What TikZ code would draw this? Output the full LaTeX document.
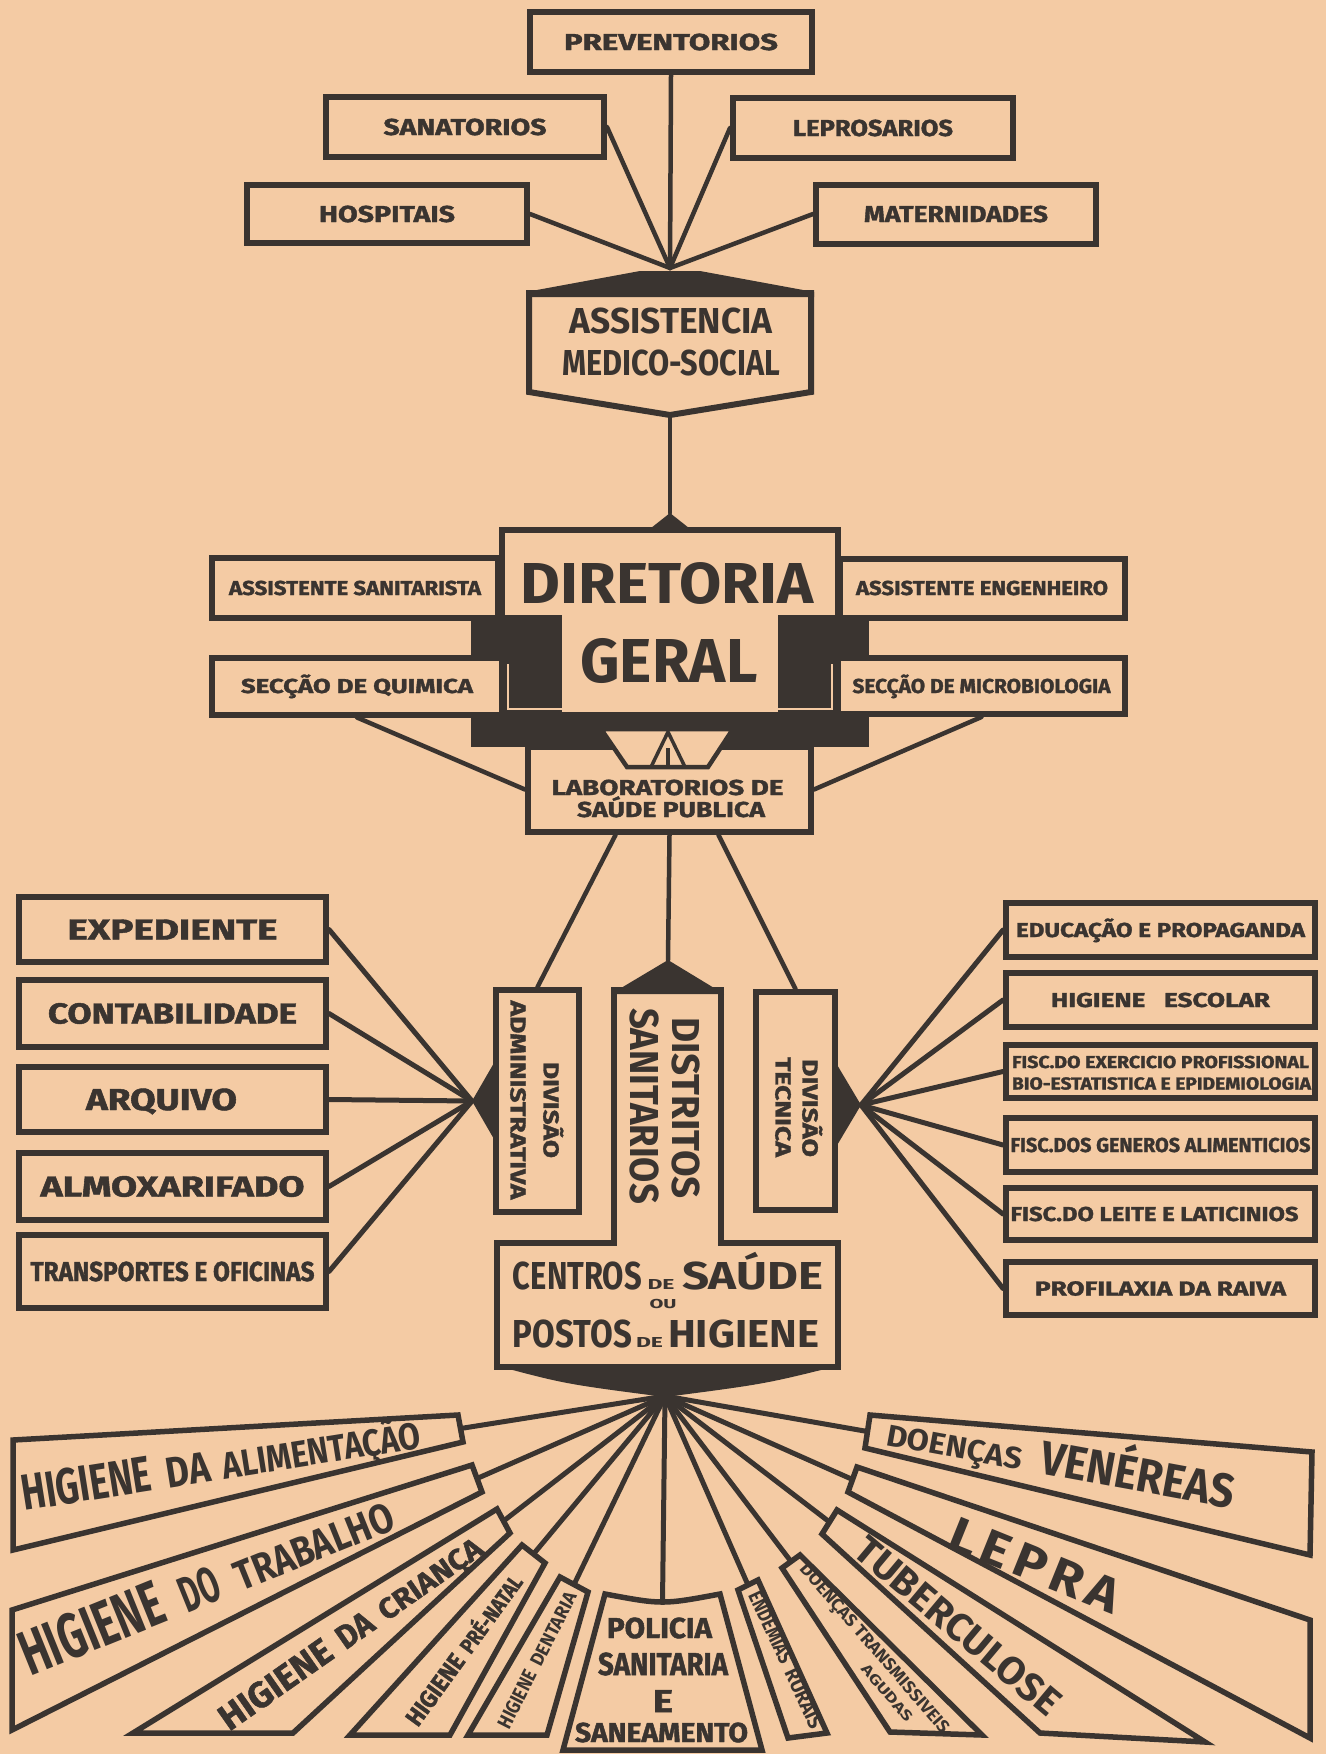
\documentclass[tikz,border=0pt]{standalone}
\usepackage{fontspec}
\usepackage{graphicx}
\setmainfont{Fira Sans}
\newfontfamily\lbfont{Fira Sans}[BoldFeatures={FakeBold=1.5}]
\usetikzlibrary{calc}
\newlength\px
\setlength\px{0.02cm}
\newcommand\ft[3]{\resizebox{#1\px}{#2\px}{\raisebox{0pt}[\fontcharht\font`H][0pt]{#3}}}
\definecolor{paper}{RGB}{244,203,164}
\definecolor{ink}{RGB}{58,52,48}
\begin{document}
\begin{tikzpicture}[x=0.02cm, y=-0.02cm,
  box/.style={draw=ink, line width=6\px, fill=paper, inner sep=0pt, text=ink, font=\lbfont\bfseries},
  lbl/.style={inner sep=0pt, text=ink, font=\lbfont\bfseries},
  hd/.style={inner sep=0pt, text=ink, font=\bfseries},
  conn/.style={draw=ink, line width=4.5\px, line cap=round},
  fanl/.style={draw=ink, line width=5\px, line cap=round},
  wedge/.style={draw=ink, line width=5.5\px, fill=paper, line join=miter},
  outl/.style={draw=ink, line width=6\px, fill=paper}
]
\fill[paper] (0,0) rectangle (1326,1754);
\useasboundingbox (0,0) rectangle (1326,1754);

% ---------- top group ----------
\coordinate (top) at (670,268);
\node[box, minimum width=282\px, minimum height=60\px] (prev) at (671,42) {\ft{214}{16}{PREVENTORIOS}};
\node[box, minimum width=278\px, minimum height=59\px] (sana) at (465,127) {\ft{163}{16}{SANATORIOS}};
\node[box, minimum width=280\px, minimum height=60\px] (lepr) at (873,128) {\ft{160}{16}{LEPROSARIOS}};
\node[box, minimum width=280\px, minimum height=58\px] (hosp) at (387,214) {\ft{136}{16}{HOSPITAIS}};
\node[box, minimum width=280\px, minimum height=59\px] (mate) at (956,214) {\ft{184}{16}{MATERNIDADES}};
\draw[conn] (prev.south) -- (top);
\draw[conn] (sana.east) -- (top);
\draw[conn] (lepr.west) -- (top);
\draw[conn] (hosp.east) -- (top);
\draw[conn] (mate.west) -- (top);

% ---------- assistencia ----------
\path[outl] (529,293) -- (811,293) -- (811,392) -- (670,415) -- (529,392) -- cycle;
\fill[ink] (526,297) -- (526,292) -- (640,271) -- (700,271) -- (814,292) -- (814,297) -- cycle;
\coordinate (asb) at (670,415);
\node[hd] (as1) at (671,321) {\ft{203}{25}{ASSISTENCIA}};
\node[hd] (as2) at (671,363) {\ft{218}{25}{MEDICO-SOCIAL}};

% ---------- diretoria ----------
\coordinate (dtop) at (670,513);
\draw[conn] (asb) -- (dtop);
\node[box, minimum width=336\px, minimum height=200\px] (dir) at (670,630) {};
\fill[ink] (646,532) -- (670,513) -- (694,532) -- cycle;
\node[box, minimum width=286\px, minimum height=60\px] (asan) at (355,588) {\ft{252}{14}{ASSISTENTE SANITARISTA}};
\node[box, minimum width=285\px, minimum height=59\px] (aeng) at (982,588) {\ft{252}{14}{ASSISTENTE ENGENHEIRO}};
\fill[ink] (471,615) rectangle (562,747);
\fill[ink] (778,615) rectangle (869,747);
\fill[ink] (471,712) rectangle (869,747);
\node[box, minimum width=290\px, minimum height=57\px] (squi) at (357,686) {\ft{232}{14}{SECÇÃO DE QUIMICA}};
\node[box, minimum width=287\px, minimum height=56\px] (smic) at (981.5,686) {\ft{258}{14}{SECÇÃO DE MICROBIOLOGIA}};
\draw[paper, line width=1.5\px] (508,664) -- (508,709) -- (562,709);
\draw[paper, line width=1.5\px] (832,664) -- (832,709) -- (778,709);
\node[hd] (dir1) at (667,583) {\ft{293}{40}{DIRETORIA}};
\node[hd] (dir2) at (669,661) {\ft{177}{43}{GERAL}};

% ---------- laboratorios ----------
\node[box, minimum width=283\px, minimum height=85\px] (lab) at (669.5,789.5) {};
\fill[ink] (528,744) rectangle (811,747);
\filldraw[fill=paper, draw=ink, line width=4.5\px] (601,729) -- (733,729) -- (708,767) -- (627,767) -- cycle;
\draw[ink, line width=3.5\px] (651,767) -- (668,732) -- (685,767);
\draw[ink, line width=3.5\px] (668,748) -- (668,767);
\node[lbl] (lab1) at (667.5,787.5) {\ft{232}{15}{LABORATORIOS DE}};
\node[lbl] (lab2) at (671,809.5) {\ft{188}{15}{SAÚDE PUBLICA}};
\draw[conn] (squi.south) -- (lab.west);
\draw[conn] (smic.south) -- (lab.east);

% ---------- divisions ----------
\node[box, minimum width=83\px, minimum height=222\px] (dadm) at (537.5,1101) {};
\node[box, minimum width=79\px, minimum height=218\px] (dtec) at (795.5,1101) {};
\node[lbl, rotate=-90] (da1) at (518,1100) {\ft{199}{15}{ADMINISTRATIVA}};
\node[lbl, rotate=-90] (da2) at (551,1110) {\ft{96}{15}{DIVISÃO}};
\node[lbl, rotate=-90] (dt1) at (783,1107) {\ft{100}{15}{TECNICA}};
\node[lbl, rotate=-90] (dt2) at (810,1108) {\ft{98}{15}{DIVISÃO}};

\coordinate (dsap) at (668,960);
\draw[conn] ($(lab.south)+(-54,0)$) -- (dadm.north);
\draw[conn] (lab.south) -- (dsap);
\draw[conn] ($(lab.south)+(49,0)$) -- (dtec.north);

% distritos + centros
\path[outl] (614,990) -- (614,1243) -- (497,1243) -- (497,1367) -- (838,1367) -- (838,1243) -- (721,1243) -- (721,990) -- cycle;
\fill[ink] (611,994) -- (668,960) -- (724,994) -- cycle;
\node[hd, rotate=-90] (ds1) at (686,1108) {\ft{182}{27}{DISTRITOS}};
\node[hd, rotate=-90] (ds2) at (644,1106) {\ft{196}{28}{SANITARIOS}};

\node[hd] (ce1) at (577.5,1275.5) {\ft{129}{27}{CENTROS}};
\node[hd] (ce2) at (661,1284) {\ft{27}{10}{DE}};
\node[hd] (ce3) at (752.5,1275.5) {\ft{141}{27}{SAÚDE}};
\node[hd] (ce4) at (663,1304) {\ft{27}{9}{OU}};
\node[hd] (ce5) at (572.5,1333.5) {\ft{119}{27}{POSTOS}};
\node[hd] (ce6) at (649.5,1342) {\ft{27}{10}{DE}};
\node[hd] (ce7) at (743.5,1333.5) {\ft{151}{27}{HIGIENE}};

% ---------- left fan ----------
\coordinate (lf) at (472,1101);
\node[box, minimum width=307\px, minimum height=65\px] (exp) at (172.5,929.5) {\ft{210}{20}{EXPEDIENTE}};
\node[box, minimum width=307\px, minimum height=67\px] (cont) at (172.5,1013.5) {\ft{249}{20}{CONTABILIDADE}};
\node[box, minimum width=307\px, minimum height=65\px] (arq) at (172.5,1099.5) {\hspace*{-22\px}\ft{151}{21}{ARQUIVO}};
\node[box, minimum width=307\px, minimum height=67\px] (alm) at (172.5,1186.5) {\ft{264}{20}{ALMOXARIFADO}};
\node[box, minimum width=307\px, minimum height=73\px] (tra) at (172.5,1271.5) {\ft{284}{19}{TRANSPORTES E OFICINAS}};
\foreach \b in {exp,cont,arq,alm,tra} \draw[fanl] (\b.east) -- (lf);
\fill[ink] (498,1056) -- (lf) -- (498,1146) -- cycle;

% ---------- right fan ----------
\coordinate (rf) at (861,1105);
\node[box, minimum width=309\px, minimum height=54\px] (edu) at (1160.5,930) {\ft{289}{14}{EDUCAÇÃO E PROPAGANDA}};
\node[box, minimum width=309\px, minimum height=54\px] (esc) at (1160.5,1000) {\ft{219}{14}{HIGIENE\ \ \ ESCOLAR}};
\node[box, minimum width=309\px, minimum height=53\px] (exe) at (1160.5,1071.5) {};
\node[lbl] (exe1) at (1160.5,1062) {\ft{297}{12}{FISC.DO EXERCICIO PROFISSIONAL}};
\node[lbl] (exe2) at (1161.5,1083.5) {\ft{299}{12}{BIO-ESTATISTICA E EPIDEMIOLOGIA}};
\node[box, minimum width=309\px, minimum height=54\px] (gen) at (1160.5,1145) {\ft{300}{14}{FISC.DOS GENEROS ALIMENTICIOS}};
\node[box, minimum width=309\px, minimum height=52\px] (lei) at (1160.5,1214) {\hspace*{-12\px}\ft{288}{14}{FISC.DO LEITE E LATICINIOS}};
\node[box, minimum width=309\px, minimum height=53\px] (pro) at (1160.5,1288.5) {\ft{251}{14}{PROFILAXIA DA RAIVA}};
\foreach \b in {edu,esc,exe,gen,lei,pro} \draw[fanl] (\b.west) -- (rf);
\fill[ink] (833,1058) -- (rf) -- (833,1152) -- cycle;

% ---------- bottom fan ----------
\coordinate (B) at (665,1396);
\coordinate (c1) at (460.5,1428.5);
\coordinate (c2) at (477,1478.5);
\coordinate (c3) at (503.5,1521);
\coordinate (c4) at (533.5,1554);
\coordinate (c5) at (574,1584.5);
\coordinate (c6) at (662.5,1602);
\coordinate (c7) at (748,1585);
\coordinate (c8) at (791,1561.5);
\coordinate (c9) at (829.5,1522);
\coordinate (c10) at (852.5,1479.5);
\coordinate (c11) at (867.5,1431.5);
\foreach \c in {c1,c2,c3,c4,c5,c6,c7,c8,c9,c10,c11} \draw[fanl] (B) -- (\c);

\path[wedge] (13,1440) -- (458,1415) -- (463,1442) -- (13,1550) -- cycle;
\path[wedge] (12,1610) -- (472,1465) -- (482,1492) -- (12,1730) -- cycle;
\path[wedge] (133,1733) -- (497,1509) -- (510,1533) -- (293,1733) -- cycle;
\path[wedge] (350,1735) -- (522,1545) -- (545,1563) -- (450,1735) -- cycle;
\path[wedge] (468,1735) -- (560,1577) -- (588,1592) -- (547,1735) -- cycle;
\path[wedge] (563,1750) -- (605,1594) .. controls (662.5,1604.7) .. (720,1594) -- (762,1750) -- cycle;
\path[wedge] (788,1738) -- (738,1590) -- (758,1580) -- (827,1733) -- cycle;
\path[wedge] (890,1732) -- (782,1568) -- (800,1555) -- (982,1735) -- cycle;
\path[wedge] (1040,1733) -- (822,1534) -- (837,1510) -- (1205,1742) -- cycle;
\path[wedge] (848,1492) -- (857,1467) -- (1310,1620) -- (1310,1738) -- cycle;
\path[wedge] (865,1448) -- (870,1415) -- (1312,1452) -- (1310,1555) -- cycle;

\fill[ink] (494,1365) -- (841,1365) .. controls (765,1384) .. (665,1397) .. controls (565,1384) .. (494,1365) -- cycle;

% wedge texts
\node[hd, anchor=base west, rotate=9] (t1) at (24,1511) {\ft{131}{35}{HIGIENE}\hspace{15\px}\ft{44}{30}{DA}\hspace{13\px}\ft{200}{26}{ALIMENTAÇÃO}};
\node[hd, anchor=base west, rotate=22] (t2) at (30,1677) {\ft{150}{44}{HIGIENE}\hspace{20\px}\ft{40}{35}{DO}\hspace{18\px}\ft{168}{29}{TRABALHO}};
\node[lbl, rotate=35] (t3) at (350,1632) {\ft{130}{25}{HIGIENE}\hspace{12\px}\ft{38}{23}{DA}\hspace{12\px}\ft{120}{20}{CRIANÇA}};
\node[lbl, rotate=54] (t4) at (464,1650) {\ft{82}{17}{HIGIENE}\hspace{8\px}\ft{90}{15}{PRÉ-NATAL}};
\node[hd, rotate=63] (t5) at (537,1660) {\ft{62}{14}{HIGIENE}\hspace{8\px}\ft{80}{13}{DENTARIA}};
\node[lbl] (p1) at (659.5,1628) {\ft{105}{20}{POLICIA}};
\node[lbl] (p2) at (663,1664) {\ft{130}{22}{SANITARIA}};
\node[lbl] (p3) at (663,1701) {\ft{20}{22}{E}};
\node[lbl] (p4) at (661.5,1732.5) {\ft{173}{19}{SANEAMENTO}};
\node[hd, rotate=-65] (t7) at (786,1660) {\ft{78}{14}{ENDEMIAS}\hspace{8\px}\ft{64}{14}{RURAIS}};
\node[hd, rotate=-49] (t8a) at (875,1648) {\ft{218}{12}{DOENÇAS TRANSMISSIVEIS}};
\node[hd, rotate=-49] (t8b) at (887,1693) {\ft{70}{10}{AGUDAS}};
\node[hd, rotate=-40] (t9) at (958,1626) {\ft{255}{27}{TUBERCULOSE}};
\node[hd, rotate=-22] (t10) at (1035,1565) {\ft{180}{34}{L\kern.12em E\kern.12em P\kern.12em R\kern.12em A}};
\node[hd, anchor=base west, rotate=-10.4] (t11) at (885,1445) {\ft{137}{21}{DOENÇAS}\hspace{19\px}\ft{196}{33}{VENÉREAS}};
\end{tikzpicture}
\end{document}
